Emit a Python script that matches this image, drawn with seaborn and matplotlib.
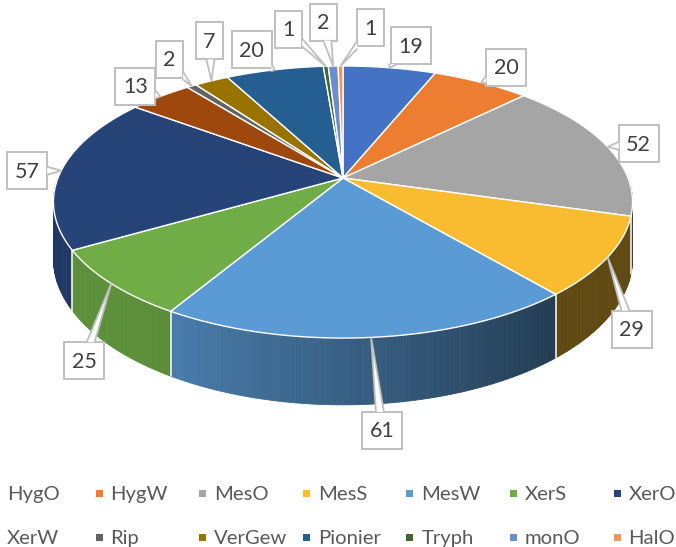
import numpy as np
import matplotlib
matplotlib.use("Agg")
import matplotlib.pyplot as plt
from matplotlib.collections import PolyCollection
from matplotlib.patches import Polygon, Rectangle
import seaborn as sns

# data
categories = ["HygO", "HygW", "MesO", "MesS", "MesW", "XerS", "XerO",
              "XerW", "Rip", "VerGew", "Pionier", "Tryph", "monO", "HalO"]
counts = [19, 20, 52, 29, 61, 25, 57, 13, 2, 7, 20, 1, 2, 1]
slice_colors = ["#4472C4", "#ED7D31", "#A5A5A5", "#F9BB30", "#5B9BD5", "#70AD47",
                "#264478", "#9E480E", "#636363", "#997300", "#255E91", "#43682B",
                "#698ED0", "#F1975A"]

# callout box offsets from each slice's rim anchor (pixels)
label_offsets = [(21, -22), (25, -15), (31, -3), (24, 72), (11, 93), (-27, 77),
                 (-34, 0), (-25, -10), (-22, -27), (-2, -40), (-23, -20),
                 (-37, -37), (-10, -44), (30, -38)]

W, H_PX = 676, 547
CX, CY = 343, 178          # pie centre on screen
RX, RY = 285, 131.8        # radii of the tilted disc
K = 0.1765                 # perspective strength
DEPTH = 55                 # thickness of the pie

sns.set_theme(style="white")
plt.rcParams["font.family"] = ["Lato", "DejaVu Sans"]
palette = sns.color_palette(slice_colors)


def project(theta, r=1.0):
    d = r * np.cos(theta)
    s = 1.0 / (1.0 + K * d)
    x = CX + RX * r * np.sin(theta) * s
    y = CY - RY * d * s
    return x, y, s


def wall_shade(theta):
    deg = np.degrees(theta) % 360
    return 0.39 + 0.44 * np.clip((deg - 140) / 75.0, 0, 1)


fig = plt.figure(figsize=(W / 100, H_PX / 100), dpi=100)
ax = fig.add_axes([0, 0, 1, 1])
ax.set_xlim(0, W)
ax.set_ylim(H_PX, 0)
ax.axis("off")

total = float(sum(counts))
bounds = np.concatenate([[0], np.cumsum(counts)]) / total * 2 * np.pi

# side walls, back to front
quads, qcols, qdepth = [], [], []
for i in range(len(counts)):
    a, b = bounds[i], bounds[i + 1]
    n = max(2, int(np.degrees(b - a)))
    ts = np.linspace(a, b, n + 1)
    base = np.array(palette[i])
    for t0, t1 in zip(ts[:-1], ts[1:]):
        tm = 0.5 * (t0 + t1)
        if np.cos(tm) > 0.02:
            continue
        x0, y0, s0 = project(t0)
        x1, y1, s1 = project(t1)
        quads.append([(x0, y0), (x1, y1), (x1, y1 + DEPTH * s1), (x0, y0 + DEPTH * s0)])
        qcols.append(tuple(base * wall_shade(tm)))
        qdepth.append(np.cos(tm))
order = np.argsort(qdepth)[::-1]
pc = PolyCollection([quads[j] for j in order], facecolors=[qcols[j] for j in order],
                    edgecolors=[qcols[j] for j in order], linewidths=0.6)
ax.add_collection(pc)

# white seams on the visible wall
for t in bounds:
    if np.cos(t) < -K:
        x, y, s = project(t)
        ax.plot([x, x], [y, y + DEPTH * s], color="white", lw=1.1, zorder=2)

# top faces
for i in range(len(counts)):
    a, b = bounds[i], bounds[i + 1]
    n = max(3, int(np.degrees(b - a) * 2))
    ts = np.linspace(a, b, n + 1)
    xs, ys, _ = project(ts)
    pts = [(CX, CY)] + list(zip(xs, ys))
    ax.add_patch(Polygon(pts, closed=True, facecolor=palette[i],
                         edgecolor="white", lw=1.0, zorder=3))

# callout labels
edge_col = "#BFBFBF"
for i, v in enumerate(counts):
    tm = 0.5 * (bounds[i] + bounds[i + 1])
    axp, ayp, _ = project(tm)
    dx, dy = label_offsets[i]
    bx, by = axp + dx, ayp + dy
    txt = str(v)
    bw, bh = 14 + 13 * len(txt), 37
    left, top = bx - bw / 2, by - bh / 2
    ax.add_patch(Rectangle((left, top), bw, bh, facecolor="white",
                           edgecolor=edge_col, lw=1.4, zorder=5))
    # where the line from box centre to anchor leaves the box
    vx, vy = axp - bx, ayp - by
    sx = (bw / 2) / abs(vx) if vx != 0 else np.inf
    sy = (bh / 2) / abs(vy) if vy != 0 else np.inf
    sc = min(sx, sy)
    ex, ey = bx + vx * sc, by + vy * sc
    if sx < sy:
        p1, p2 = (ex, ey - 4), (ex, ey + 4)
    else:
        p1, p2 = (ex - 4, ey), (ex + 4, ey)
    ax.add_patch(Polygon([p1, (axp, ayp), p2], closed=True, facecolor="white",
                         edgecolor="none", zorder=6))
    ax.plot([p1[0], axp, p2[0]], [p1[1], ayp, p2[1]], color=edge_col, lw=1.3,
            zorder=6, solid_joinstyle="miter")
    ax.text(bx, by + 1, txt, ha="center", va="center", fontsize=15.5,
            color="#404040", zorder=7)

# legend: fixed column grid, first column marker runs off the left edge
col_w = 103.6
x_first = -4.5
row_y = [493, 537]
for i, name in enumerate(categories):
    r, c = divmod(i, 7)
    mx = x_first + c * col_w
    my = row_y[r]
    ax.add_patch(Rectangle((mx - 3.5, my - 3.5), 7, 7, facecolor=palette[i],
                           edgecolor="none", zorder=5))
    ax.text(mx + 11.5, my + 7, name, ha="left", va="baseline", fontsize=14.6,
            color="#595959", zorder=5)

fig.savefig("out.png", dpi=100)
plt.close(fig)
